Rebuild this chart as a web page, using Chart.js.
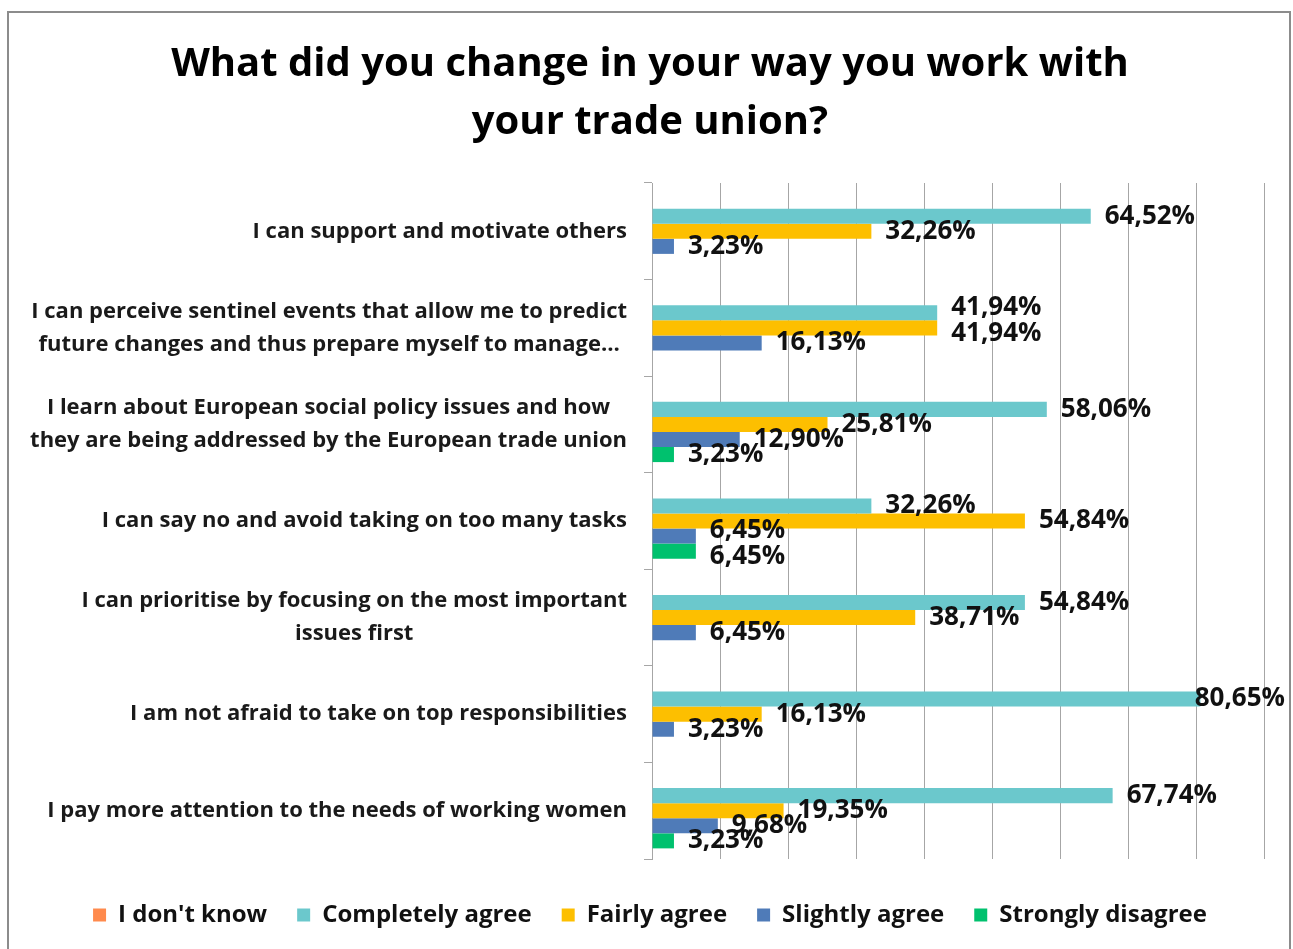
<!DOCTYPE html>
<html>
<head>
<meta charset="utf-8">
<script src="https://cdn.jsdelivr.net/npm/chart.js@4.4.1/dist/chart.umd.min.js"></script>
<style>
  html, body { margin: 0; padding: 0; background: #fff; }
  canvas { display: block; }
</style>
</head>
<body>
<canvas id="chart" width="1293" height="949"></canvas>
<script>
// Survey answers, share of respondents (%)
const categories = [
  ['I can support and motivate others'],
  ['I can perceive sentinel events that allow me to predict', 'future changes and thus prepare myself to manage…'],
  ['I learn about European social policy issues and how', 'they are being addressed by the European trade union'],
  ['I can say no and avoid taking on too many tasks'],
  ['I can prioritise by focusing on the most important', 'issues first'],
  ['I am not afraid to take on top responsibilities'],
  ['I pay more attention to the needs of working women']
];
const dontKnow          = [0, 0, 0, 0, 0, 0, 0];
const completelyAgree   = [64.52, 41.94, 58.06, 32.26, 54.84, 80.65, 67.74];
const fairlyAgree       = [32.26, 41.94, 25.81, 54.84, 38.71, 16.13, 19.35];
const slightlyAgree     = [3.23, 16.13, 12.90, 6.45, 6.45, 3.23, 9.68];
const stronglyDisagree  = [0, 0, 3.23, 6.45, 0, 0, 3.23];
const xTicks = [0, 10, 20, 30, 40, 50, 60, 70, 80, 90];

const FONT = '"Open Sans", Lato, sans-serif';
const pct = v => v.toFixed(2).replace('.', ',') + '%';

// frame around the whole figure
const framePlugin = {
  id: 'frame',
  beforeDraw(chart) {
    const ctx = chart.ctx;
    ctx.save();
    ctx.fillStyle = '#fff';
    ctx.fillRect(0, 0, chart.width, chart.height);
    ctx.strokeStyle = '#8c8c8c';
    ctx.lineWidth = 2;
    ctx.strokeRect(8, 12, chart.width - 11, chart.height + 20);
    ctx.restore();
  }
};

// category names: each block right-aligned to the axis, lines centred within it
const categoryLabels = {
  id: 'categoryLabels',
  afterDraw(chart) {
    const ctx = chart.ctx;
    const y = chart.scales.y;
    const right = chart.chartArea.left - 25;
    const lineH = 33;
    ctx.save();
    ctx.font = 'bold 22px ' + FONT;
    ctx.fillStyle = '#1a1a1a';
    ctx.textAlign = 'center';
    ctx.textBaseline = 'middle';
    categories.forEach((lines, i) => {
      const cy = y.getPixelForValue(i);
      const w = Math.max(...lines.map(l => ctx.measureText(l).width));
      const cx = right - w / 2;
      const top = cy - (lines.length - 1) * lineH / 2;
      lines.forEach((l, k) => ctx.fillText(l, cx, top + k * lineH));
    });
    ctx.restore();
  }
};

// value labels at the end of each bar, zero values skipped
const valueLabels = {
  id: 'valueLabels',
  afterDatasetsDraw(chart) {
    const ctx = chart.ctx;
    const maxRight = chart.width - 8;
    const h = 26;
    ctx.save();
    ctx.font = 'bold 26px ' + FONT;
    ctx.fillStyle = '#111';
    ctx.textAlign = 'left';
    ctx.textBaseline = 'middle';
    chart.data.labels.forEach((_, i) => {
      const items = [];
      chart.data.datasets.forEach((ds, d) => {
        const v = ds.data[i];
        if (!v) return;
        const bar = chart.getDatasetMeta(d).data[i];
        const text = pct(v);
        const w = ctx.measureText(text).width;
        let x = bar.x + 14;
        if (x + w > maxRight) x = maxRight - w;
        items.push({ text, x, w, y: bar.y });
      });
      // labels starting at the same spot would cover each other: spread them
      for (let k = 1; k < items.length; k++) {
        const a = items[k - 1], b = items[k];
        if (Math.abs(a.x - b.x) < 20 && b.y - a.y < h) {
          const shift = (h - (b.y - a.y)) / 2;
          a.y -= shift;
          b.y += shift;
        }
      }
      items.forEach(it => ctx.fillText(it.text, it.x, it.y));
    });
    ctx.restore();
  }
};

const series = [
  { label: "I don't know", data: dontKnow, color: '#FF8A4D' },
  { label: 'Completely agree', data: completelyAgree, color: '#6BC8CC' },
  { label: 'Fairly agree', data: fairlyAgree, color: '#FDBF00' },
  { label: 'Slightly agree', data: slightlyAgree, color: '#4F7BB8' },
  { label: 'Strongly disagree', data: stronglyDisagree, color: '#00C16E' }
];

new Chart(document.getElementById('chart'), {
  type: 'bar',
  data: {
    labels: categories.map(c => c.join(' ')),
    datasets: series.map(s => ({
      label: s.label,
      data: s.data,
      backgroundColor: s.color,
      borderWidth: 0,
      barPercentage: 1,
      categoryPercentage: 0.78
    }))
  },
  options: {
    indexAxis: 'y',
    responsive: false,
    animation: false,
    layout: { padding: { left: 36, right: 29, top: 0, bottom: 12 } },
    plugins: {
      title: {
        display: true,
        text: ['What did you change in your way you work with', 'your trade union?'],
        color: '#000',
        font: { family: FONT, size: 40, weight: 'bold', lineHeight: 1.45 },
        padding: { top: 36, bottom: 31 }
      },
      legend: {
        position: 'bottom',
        labels: {
          color: '#111',
          font: { family: FONT, size: 24, weight: 'bold' },
          boxWidth: 13,
          boxHeight: 13,
          padding: 30
        }
      },
      tooltip: { enabled: false }
    },
    scales: {
      x: {
        min: xTicks[0],
        max: xTicks[xTicks.length - 1],
        afterBuildTicks: s => { s.ticks = xTicks.map(v => ({ value: v })); },
        ticks: { display: false },
        grid: { color: '#a6a6a6', lineWidth: 1, drawTicks: false },
        border: { display: false },
        afterFit: s => { s.height = 14; }
      },
      y: {
        ticks: { display: false },
        grid: { drawOnChartArea: false, drawTicks: true, tickLength: 8, color: '#a6a6a6', offset: true },
        border: { display: true, color: '#a6a6a6', width: 1 },
        afterFit: s => { s.width = 616; }
      }
    }
  },
  plugins: [framePlugin, categoryLabels, valueLabels]
});
</script>
</body>
</html>
